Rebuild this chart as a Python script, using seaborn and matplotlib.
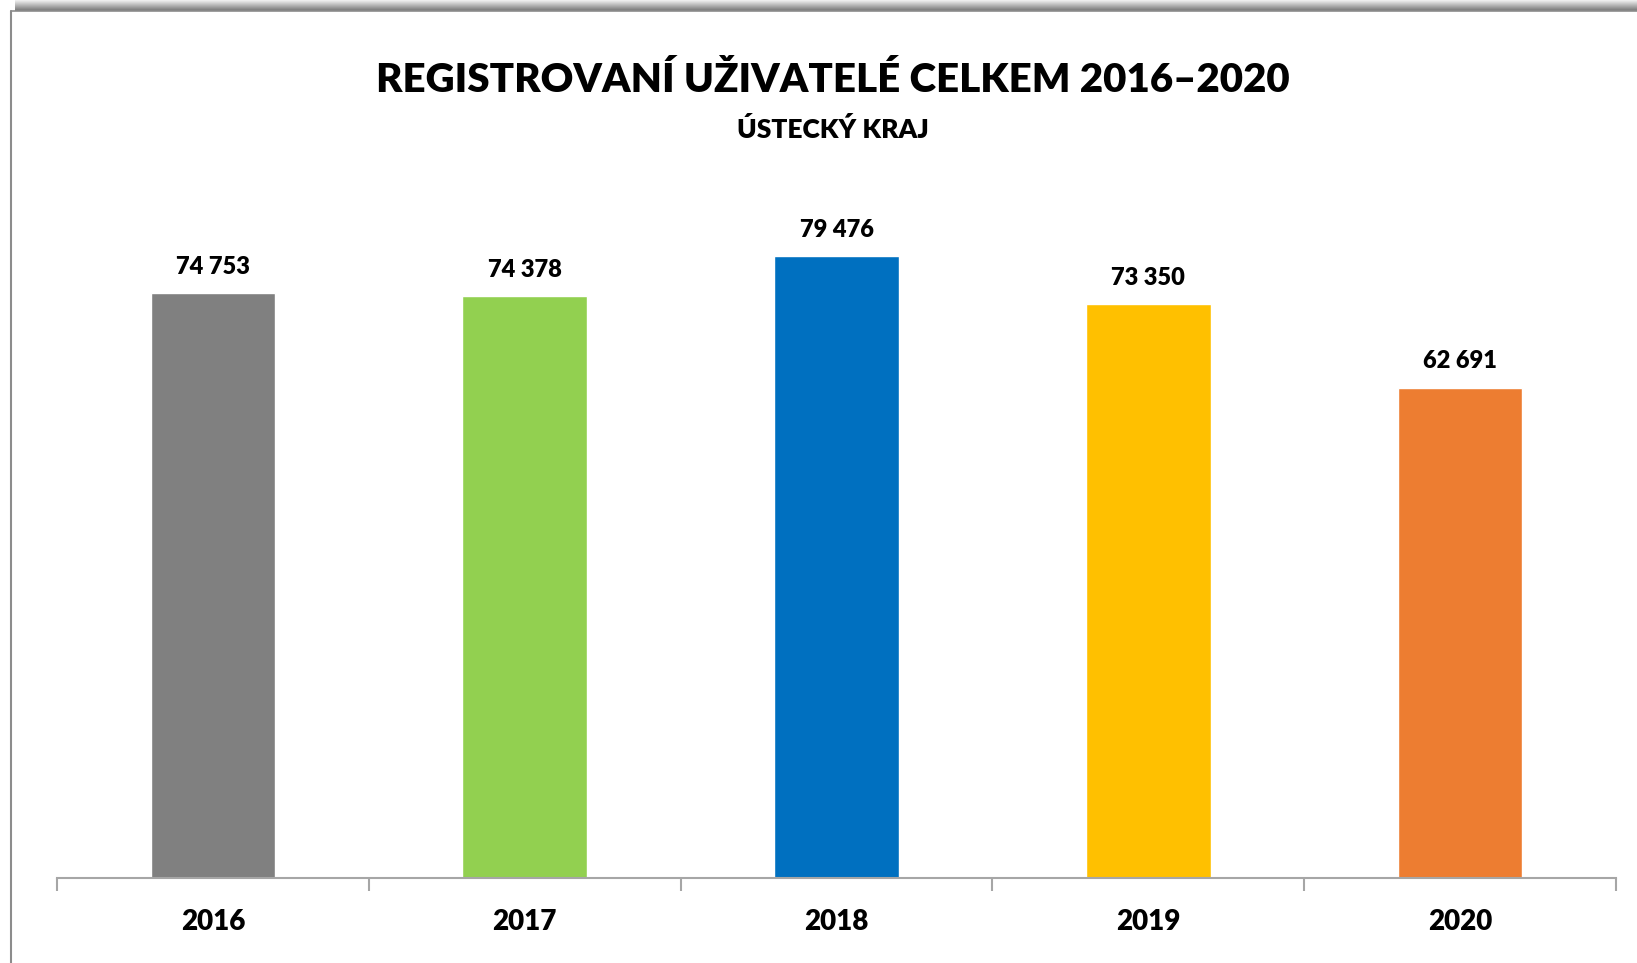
import numpy as np
import pandas as pd
import matplotlib
matplotlib.use("Agg")
import matplotlib.pyplot as plt
import seaborn as sns

years = ["2016", "2017", "2018", "2019", "2020"]
values = [74753, 74378, 79476, 73350, 62691]
colors = ["#808080", "#92D050", "#0070C0", "#FFC000", "#ED7D31"]
title = "REGISTROVANÍ UŽIVATELÉ CELKEM 2016–2020"
subtitle = "ÚSTECKÝ KRAJ"

sns.set_theme(style="white")
plt.rcParams["font.family"] = ["Lato", "DejaVu Sans"]
plt.rcParams["font.weight"] = "bold"

W, H = 1637, 963
fig = plt.figure(figsize=(W / 100, H / 100), dpi=100)
fig.patch.set_facecolor("white")

# decorative frame: top shadow gradient and thin left/top border
gax = fig.add_axes([15 / W, 1 - 11 / H, 1 - 15 / W, 11 / H])
grad = np.linspace(0.95, 0.45, 50).reshape(-1, 1)
gax.imshow(grad, aspect="auto", cmap="gray", vmin=0, vmax=1, extent=[0, 1, 0, 1], origin="upper")
gax.axis("off")
fig.add_artist(plt.Line2D([11 / W, 11 / W], [0, 1 - 11 / H], color="#8c8c8c", lw=1.5, transform=fig.transFigure))
fig.add_artist(plt.Line2D([11 / W, 1], [1 - 11 / H, 1 - 11 / H], color="#8c8c8c", lw=1.2, transform=fig.transFigure))

ax = fig.add_axes([57 / W, 1 - 878 / H, (1616 - 57) / W, (878 - 174) / H])
df = pd.DataFrame({"year": years, "value": values})
sns.barplot(data=df, x="year", y="value", hue="year", palette=colors, width=0.4,
            legend=False, ax=ax, saturation=1)
ax.set_xlim(-0.5, 4.5)
ax.set_ylim(0, 90000)
ax.set_xlabel("")
ax.set_ylabel("")
ax.set_yticks([])
for s in ["left", "right", "top"]:
    ax.spines[s].set_visible(False)
ax.spines["bottom"].set_color("#a6a6a6")
ax.spines["bottom"].set_linewidth(1.5)
ax.set_xticks(np.arange(-0.5, 5, 1.0), minor=True)
ax.tick_params(axis="x", which="minor", length=9, width=1.5, color="#a6a6a6", direction="out", bottom=True)
ax.tick_params(axis="x", which="major", length=0, pad=22.5, labelsize=20)
for lab in ax.get_xticklabels():
    lab.set_fontweight("heavy")
    lab.set_color("black")

for i, v in enumerate(values):
    ax.annotate(f"{v:,}".replace(",", " "), (i, v), xytext=(0, 11), textcoords="offset points",
                ha="center", va="bottom", fontsize=17, fontweight="heavy", color="black")

fig.text(833 / W, 1 - 80 / H, title, ha="center", va="center", fontsize=29, fontweight="heavy", color="black")
fig.text(833 / W, 1 - 129 / H, subtitle, ha="center", va="center", fontsize=19, fontweight="heavy", color="black")

fig.savefig("out.png", dpi=100, facecolor="white")
